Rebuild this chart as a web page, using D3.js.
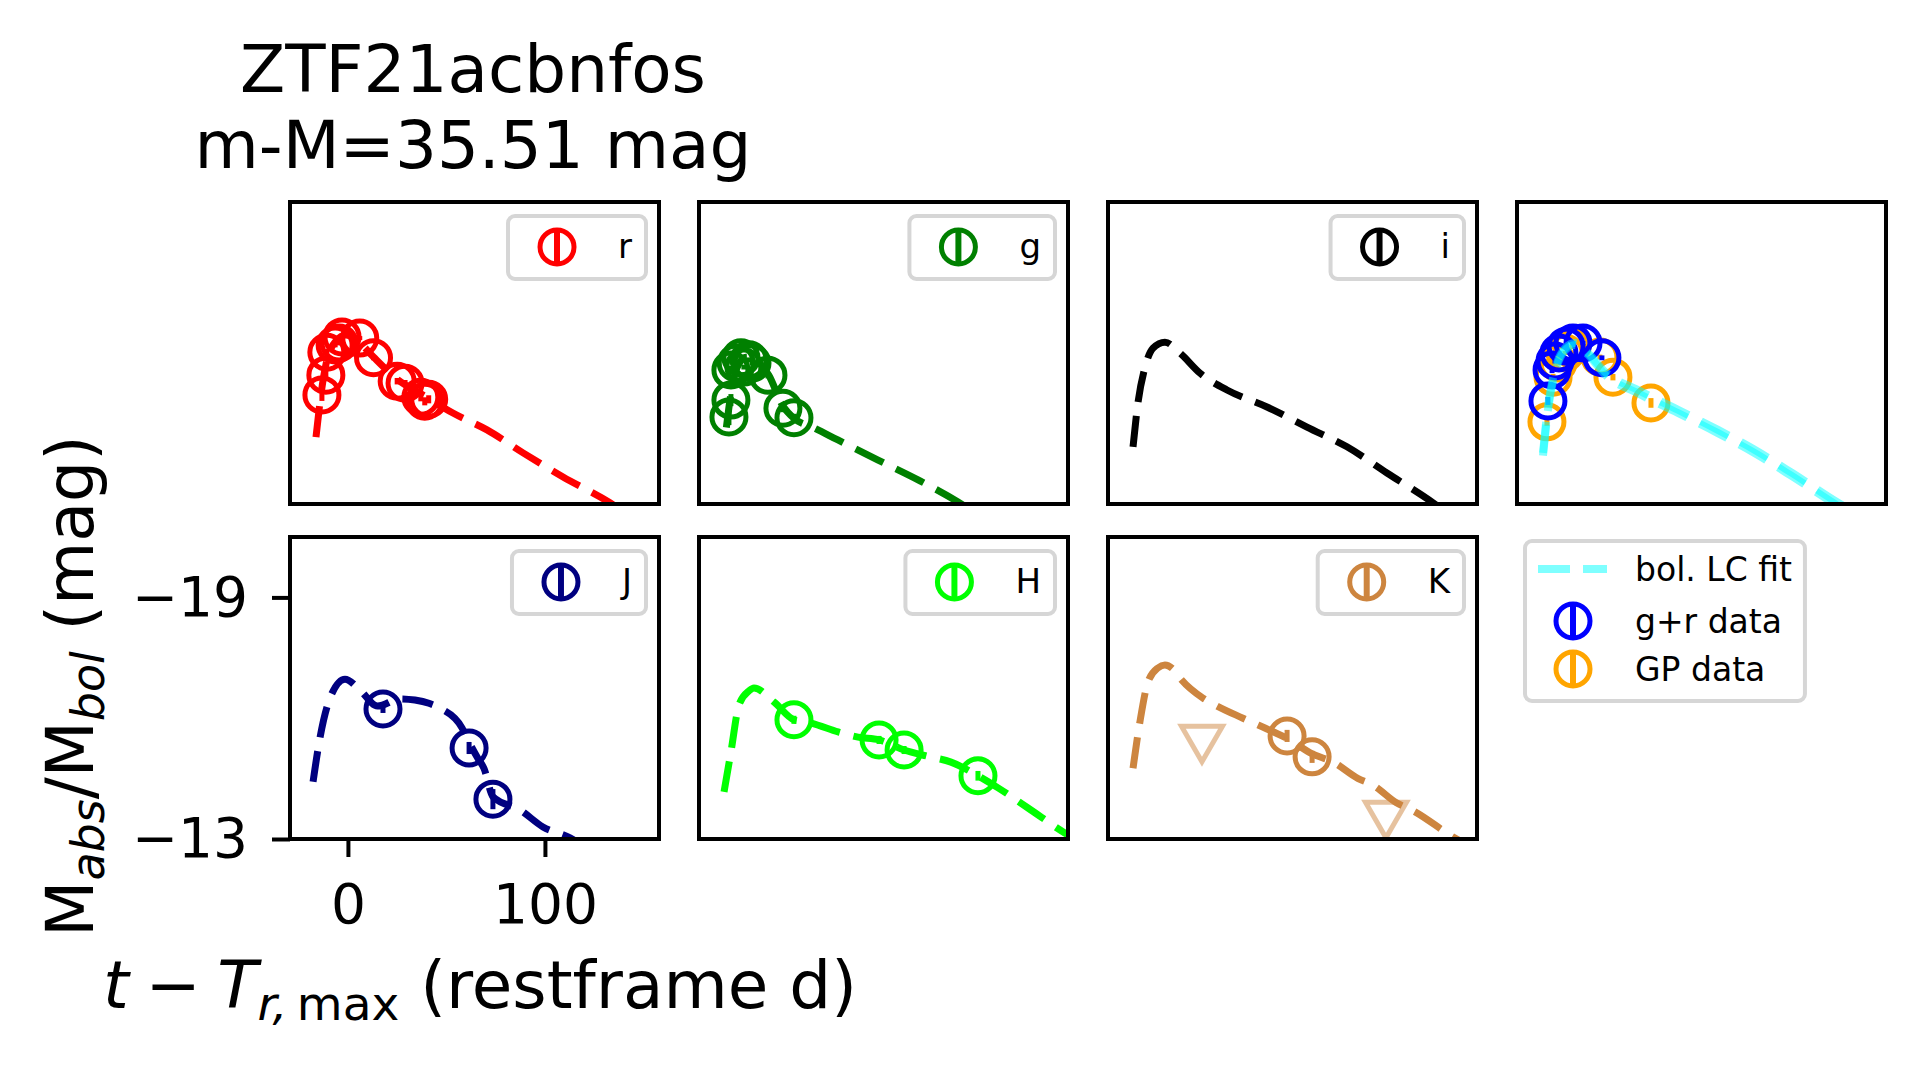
<!DOCTYPE html>
<html>
<head>
<meta charset="utf-8">
<script src="https://cdn.jsdelivr.net/npm/d3@7"></script>
<style>
  body { margin: 0; background: #fff; }
  svg { display: block; font-family: "DejaVu Sans", sans-serif; }
</style>
</head>
<body>
<svg id="chart" width="1928" height="1068"></svg>
<script>
// ---- values (t in restframe days, M in mag) ----
const titleLines = ["ZTF21acbnfos", "m-M=35.51 mag"];
const xTicks = [0, 100];
const yTicks = [-19, -13];

const rObsT = [-13.2, -11.2, -10.7, -6.5, -4.5, -3, 6, 13, 25, 29, 37, 39, 41];
const rObsM = [-15.71, -16.2, -16.77, -16.95, -17.0, -17.15, -17.12, -16.63, -16.05, -16.0, -15.65, -15.55, -15.6];
const rObsErr = [0.15, 0.1, 0.08, 0.06, 0.06, 0.05, 0.05, 0.06, 0.08, 0.08, 0.1, 0.1, 0.1];
const rFitT = [-16.2, -14, -11, -6, -1, 6, 13, 25, 40, 53.3, 70.6, 88.9, 109.2, 133, 140];
const rFitM = [-14.66, -15.6, -16.5, -17.05, -17.2, -17.0, -16.65, -16.1, -15.65, -15.26, -14.84, -14.27, -13.67, -13.03, -12.8];

const gObsT = [-14.2, -13.2, -13.2, -10.5, -8.1, -6.6, -4.0, -2.5, 5.6, 13.2, 18.8];
const gObsM = [-15.16, -15.58, -16.33, -16.5, -16.63, -16.4, -16.58, -16.5, -16.2, -15.38, -15.14];
const gObsErr = [0.2, 0.15, 0.1, 0.08, 0.06, 0.06, 0.06, 0.06, 0.08, 0.1, 0.1];
const gFitT = [-15.5, -13, -10, -5, 0, 6, 13, 19, 29, 41.1, 61.5, 81.8, 102.1, 110];
const gFitM = [-14.9, -15.8, -16.4, -16.65, -16.55, -16.2, -15.45, -15.12, -14.89, -14.59, -14.09, -13.6, -13.05, -12.8];

const iFitT = [-16.7, -14.2, -10.6, -6.6, -0.5, 7.1, 17.3, 31, 51.3, 71.6, 91.9, 112.2, 135.6, 142];
const iFitM = [-14.42, -15.51, -16.4, -16.87, -17.02, -16.75, -16.25, -15.83, -15.41, -14.91, -14.42, -13.77, -13.03, -12.8];

const jObsT = [17.8, 61.5, 73.6];
const jObsM = [-16.23, -15.26, -13.99];
const jObsErr = [0.1, 0.15, 0.25];
const jFitT = [-17.7, -14.2, -9.1, -1.5, 6.1, 15, 26.4, 34, 41.1, 46.7, 57.9, 61.5, 66, 69, 73.6, 87.4, 99, 112.7, 120];
const jFitM = [-14.42, -15.51, -16.5, -16.97, -16.7, -16.3, -16.48, -16.45, -16.37, -16.25, -15.76, -15.4, -15.0, -14.76, -14.05, -13.72, -13.3, -13.03, -12.8];

const hObsT = [18.8, 62, 74.7, 112.2];
const hObsM = [-15.96, -15.46, -15.21, -14.57];
const hObsErr = [0.1, 0.1, 0.1, 0.12];
const hFitT = [-16.7, -13.2, -9.1, -4, -1.5, 8.7, 18.8, 27.5, 41.2, 51.3, 62, 74.7, 87, 98.5, 112.2, 122.4, 137.6, 157.9, 165];
const hFitM = [-14.17, -15.16, -16.33, -16.68, -16.75, -16.4, -15.96, -15.88, -15.66, -15.53, -15.46, -15.21, -15.05, -14.91, -14.57, -14.27, -13.77, -13.1, -12.9];

const kObsT = [61.5, 74.2];
const kObsM = [-15.56, -15.04];
const kObsErr = [0.15, 0.15];
const kLimT = [18.3, 111.7];
const kLimM = [-15.36, -13.47];
const kFitT = [-16.7, -13.2, -9.1, -4, -0.5, 4, 7.1, 18.8, 24.9, 39.1, 55, 61.5, 74, 84.9, 97.6, 105, 117, 125.5, 145.8, 155];
const kFitM = [-14.76, -15.91, -16.9, -17.25, -17.32, -17.2, -17.0, -16.5, -16.33, -16.0, -15.65, -15.5, -15.12, -14.91, -14.5, -14.34, -13.9, -13.7, -13.05, -12.8];

const grObsT = [-13.7, -11.6, -10.1, -8.1, -4.5, -1, 4.1, 13.7];
const grObsM = [-15.56, -16.33, -16.55, -16.75, -16.92, -17.0, -17.0, -16.63];
const grObsErr = [0.1, 0.08, 0.06, 0.05, 0.05, 0.05, 0.05, 0.06];
const gpObsT = [-14.2, -11.1, -8.6, -5, -1.5, 12.7, 19.3, 38.6];
const gpObsM = [-15.04, -16.15, -16.5, -16.75, -16.9, -16.65, -16.15, -15.51];
const gpObsErr = [0.1, 0.08, 0.06, 0.05, 0.05, 0.06, 0.08, 0.12];
const bolFitT = [-16.2, -13.7, -10.1, -5, 0, 6.6, 15.3, 32, 52.3, 72.6, 91.4, 110.2, 133.5, 145];
const bolFitM = [-14.27, -15.41, -16.33, -16.87, -17.0, -16.75, -16.28, -15.83, -15.34, -14.84, -14.34, -13.77, -13.03, -12.7];
const bolFitM2 = [-14.2, -15.33, -16.26, -16.82, -16.95, -16.71, -16.21, -15.75, -15.26, -14.76, -14.26, -13.69, -12.95, -12.6];

// ---- layout ----
const svg = d3.select("#chart");
const pw = 369, ph = 302;
const colLeft = c => 290 + c * 409;
const rowTop = r => (r === 0 ? 202 : 537);
const x = d3.scaleLinear().domain([-29.4, 157.9]).range([0, pw]);
const y = d3.scaleLinear().domain([-13, -20.5]).range([ph, 0]);
const line = d3.line().x(d => x(d[0])).y(d => y(d[1])).curve(d3.curveMonotoneX);
const zip = (a, b, c) => a.map((v, i) => c ? [v, b[i], c[i]] : [v, b[i]]);

const panels = [
  {label: "r", color: "#ff0000", col: 0, row: 0, obs: zip(rObsT, rObsM, rObsErr), fit: zip(rFitT, rFitM)},
  {label: "g", color: "#008000", col: 1, row: 0, obs: zip(gObsT, gObsM, gObsErr), fit: zip(gFitT, gFitM)},
  {label: "i", color: "#000000", col: 2, row: 0, obs: [], fit: zip(iFitT, iFitM)},
  {label: "J", color: "#000080", col: 0, row: 1, obs: zip(jObsT, jObsM, jObsErr), fit: zip(jFitT, jFitM), axes: true},
  {label: "H", color: "#00ff00", col: 1, row: 1, obs: zip(hObsT, hObsM, hObsErr), fit: zip(hFitT, hFitM)},
  {label: "K", color: "#cd853f", col: 2, row: 1, obs: zip(kObsT, kObsM, kObsErr), fit: zip(kFitT, kFitM), lims: zip(kLimT, kLimM)}
];

let defs = svg.append("defs");

function addClip(id) {
  defs.append("clipPath").attr("id", id)
    .append("rect").attr("width", pw).attr("height", ph);
}

function drawPoints(g, pts, color) {
  g.selectAll(null).data(pts).join("line")
    .attr("x1", d => x(d[0])).attr("x2", d => x(d[0]))
    .attr("y1", d => y(d[1] - d[2])).attr("y2", d => y(d[1] + d[2]))
    .attr("stroke", color).attr("stroke-width", 5);
  g.selectAll(null).data(pts).join("circle")
    .attr("cx", d => x(d[0])).attr("cy", d => y(d[1]))
    .attr("r", 17)
    .attr("fill", "none").attr("stroke", color).attr("stroke-width", 5);
}

function drawFit(g, pts, color, width, opacity) {
  g.append("path").datum(pts)
    .attr("d", line)
    .attr("fill", "none")
    .attr("stroke", color).attr("stroke-width", width)
    .attr("stroke-opacity", opacity)
    .attr("stroke-dasharray", "31,14");
}

function legendMarker(g, cx, cy, color) {
  g.append("line")
    .attr("x1", cx).attr("x2", cx).attr("y1", cy - 17).attr("y2", cy + 17)
    .attr("stroke", color).attr("stroke-width", 6);
  g.append("circle").attr("cx", cx).attr("cy", cy).attr("r", 17)
    .attr("fill", "none").attr("stroke", color).attr("stroke-width", 5);
}

function bandLegend(g, label, color) {
  const lg = g.append("g");
  const box = lg.append("rect")
    .attr("rx", 7).attr("fill", "#fff").attr("fill-opacity", 0.8)
    .attr("stroke", "#d6d6d6").attr("stroke-width", 4);
  const txt = lg.append("text").text(label).attr("font-size", 34).attr("fill", "#000");
  const tw = txt.node().getComputedTextLength();
  const right = pw - 13, top = 14;
  const left = right - 14 - tw - 110;
  box.attr("x", left).attr("y", top).attr("width", right - left).attr("height", 63);
  txt.attr("x", left + 110).attr("y", top + 42);
  legendMarker(lg, left + 49, top + 31, color);
}

panels.forEach((p, i) => {
  const g = svg.append("g").attr("transform", `translate(${colLeft(p.col)},${rowTop(p.row)})`);
  const cid = `clip${i}`;
  addClip(cid);
  const inner = g.append("g").attr("clip-path", `url(#${cid})`);
  drawFit(inner, p.fit, p.color, 7, 1);
  drawPoints(inner, p.obs, p.color);
  if (p.lims) {
    const s = 728, y0 = Math.sqrt(s / (3 * Math.sqrt(3)));
    inner.selectAll(null).data(p.lims).join("path")
      .attr("d", d3.symbol(d3.symbolTriangle, s))
      .attr("transform", d => `translate(${x(d[0])},${y(d[1])}) rotate(180) translate(0,${y0 / 2})`)
      .attr("fill", "none").attr("stroke", p.color).attr("stroke-opacity", 0.5).attr("stroke-width", 5);
  }
  if (p.axes) {
    const yAx = g.append("g")
      .call(d3.axisLeft(y).tickValues(yTicks).tickSize(18).tickPadding(24));
    const xAx = g.append("g").attr("transform", `translate(0,${ph})`)
      .call(d3.axisBottom(x).tickValues(xTicks).tickSize(18).tickPadding(27));
    [yAx, xAx].forEach(a => {
      a.select(".domain").remove();
      a.attr("font-size", 55).attr("font-family", "DejaVu Sans");
      a.selectAll(".tick line").attr("stroke", "#000").attr("stroke-width", 4);
      a.selectAll(".tick text").attr("fill", "#000");
    });
  }
  g.append("rect").attr("width", pw).attr("height", ph)
    .attr("fill", "none").attr("stroke", "#000").attr("stroke-width", 4);
  bandLegend(g, p.label, p.color);
});

// bolometric panel
{
  const g = svg.append("g").attr("transform", `translate(${colLeft(3)},${rowTop(0)})`);
  addClip("clipBol");
  const inner = g.append("g").attr("clip-path", "url(#clipBol)");
  drawPoints(inner, zip(gpObsT, gpObsM, gpObsErr), "#ffa500");
  drawPoints(inner, zip(grObsT, grObsM, grObsErr), "#0000ff");
  drawFit(inner, zip(bolFitT, bolFitM), "#00ffff", 8, 0.5);
  drawFit(inner, zip(bolFitT, bolFitM2), "#00ffff", 8, 0.5);
  g.append("rect").attr("width", pw).attr("height", ph)
    .attr("fill", "none").attr("stroke", "#000").attr("stroke-width", 4);
}

// legend for the bolometric panel, in the empty slot
{
  const lg = svg.append("g").attr("transform", `translate(${colLeft(3) + 8},${rowTop(1) + 4})`);
  const box = lg.append("rect").attr("rx", 7).attr("fill", "#fff")
    .attr("stroke", "#d6d6d6").attr("stroke-width", 4);
  const labels = ["bol. LC fit", "g+r data", "GP data"];
  const rowsY = [28, 80, 128];
  let tw = 0;
  labels.forEach((lab, i) => {
    const t = lg.append("text").text(lab).attr("x", 110).attr("y", rowsY[i] + 12)
      .attr("font-size", 33).attr("fill", "#000");
    tw = Math.max(tw, t.node().getComputedTextLength());
  });
  box.attr("width", 110 + tw + 13).attr("height", 160);
  lg.append("line").attr("x1", 13).attr("x2", 82).attr("y1", rowsY[0]).attr("y2", rowsY[0])
    .attr("stroke", "#00ffff").attr("stroke-opacity", 0.5).attr("stroke-width", 8)
    .attr("stroke-dasharray", "32,13");
  legendMarker(lg, 48, rowsY[1], "#0000ff");
  legendMarker(lg, 48, rowsY[2], "#ffa500");
}

// title
svg.append("g").attr("font-size", 66).attr("text-anchor", "middle")
  .selectAll("text").data(titleLines).join("text")
  .attr("x", 473).attr("y", (d, i) => 92 + i * 76)
  .text(d => d);

// y label
const yl = svg.append("text")
  .attr("transform", "translate(93,686) rotate(-90)")
  .attr("text-anchor", "middle").attr("font-size", 65);
yl.append("tspan").text("M");
yl.append("tspan").text("abs").attr("font-size", 46).attr("font-style", "italic").attr("dy", 11);
yl.append("tspan").text("/M").attr("dy", -11);
yl.append("tspan").text("bol").attr("font-size", 46).attr("font-style", "italic").attr("dy", 11);
yl.append("tspan").text("\u00a0(mag)").attr("dy", -11);

// x label
const xl = svg.append("text").attr("x", 103).attr("y", 1008).attr("font-size", 66);
xl.append("tspan").text("t").attr("font-style", "italic");
xl.append("tspan").text("\u2005\u2212\u2005");
xl.append("tspan").text("T").attr("font-style", "italic");
xl.append("tspan").text("r,").attr("font-style", "italic").attr("font-size", 47).attr("dy", 12);
xl.append("tspan").text("\u2009max").attr("font-size", 47);
xl.append("tspan").text(" (restframe d)").attr("dy", -12);
</script>
</body>
</html>
